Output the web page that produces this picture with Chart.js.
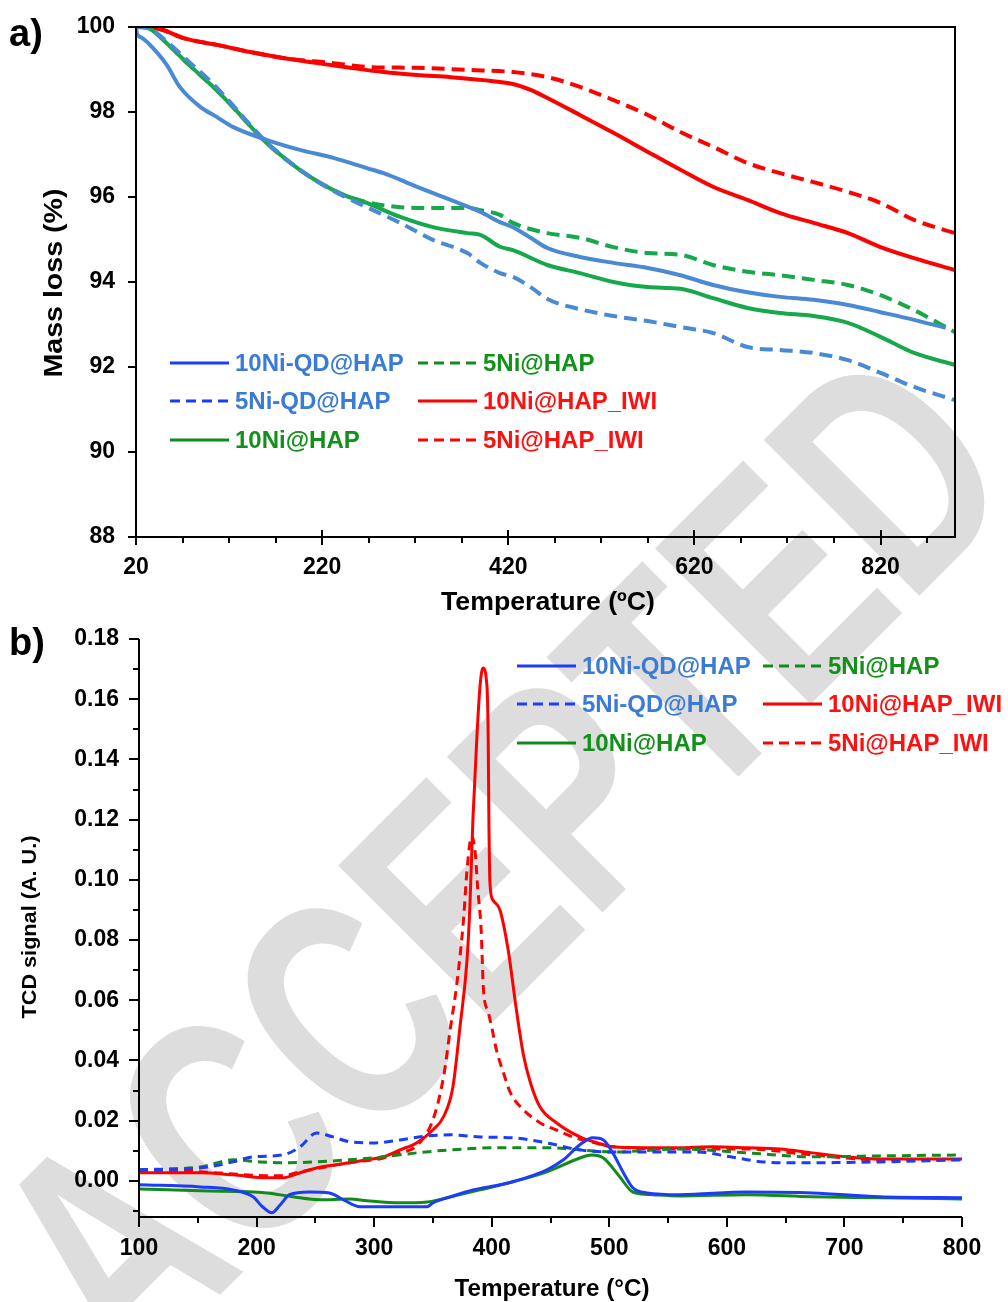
<!DOCTYPE html>
<html>
<head>
<meta charset="utf-8">
<script src="https://cdn.jsdelivr.net/npm/chart.js@4.4.0/dist/chart.umd.min.js"></script>
<style>
  body { margin: 0; background: #fff; }
  #lienzo { position: relative; width: 1008px; height: 1302px; }
  canvas { position: absolute; left: 0; }
</style>
</head>
<body>
<div id="lienzo">
  <canvas id="marca" width="1008" height="1302" style="top:0"></canvas>
  <canvas id="graficoTGA" width="1008" height="620" style="top:0"></canvas>
  <canvas id="graficoTPR" width="1008" height="682" style="top:620px"></canvas>
</div>
<script>
// Nombres de las muestras (mismo orden en las dos graficas)
const nombres = ['10Ni-QD@HAP', '5Ni-QD@HAP', '10Ni@HAP', '5Ni@HAP', '10Ni@HAP_IWI', '5Ni@HAP_IWI'];

// ---- a) TGA: temperatura (ºC) y perdida de masa (%) ----
const tempA_10NiQD = [20, 21, 26, 35, 53, 67, 89, 107, 124, 161, 196, 232, 268, 286, 322, 358, 390, 411, 425, 444, 462, 497, 533, 570, 605, 640, 677, 712, 748, 785, 820, 856, 890];
const masa_10NiQD = [100, 99.85, 99.75, 99.58, 99.11, 98.59, 98.12, 97.88, 97.65, 97.34, 97.11, 96.92, 96.68, 96.56, 96.24, 95.93, 95.65, 95.41, 95.29, 95.04, 94.80, 94.59, 94.45, 94.33, 94.16, 93.93, 93.76, 93.65, 93.58, 93.46, 93.29, 93.11, 92.92];

const tempA_5NiQD = [20, 32, 53, 75, 103, 124, 157, 178, 196, 218, 243, 268, 304, 339, 376, 390, 411, 425, 444, 462, 497, 533, 570, 605, 640, 677, 712, 748, 785, 820, 856, 900];
const masa_5NiQD = [100, 99.98, 99.66, 99.22, 98.66, 98.16, 97.36, 96.95, 96.64, 96.32, 96.02, 95.76, 95.39, 94.99, 94.68, 94.45, 94.21, 94.12, 93.88, 93.60, 93.36, 93.20, 93.08, 92.94, 92.80, 92.47, 92.40, 92.33, 92.16, 91.86, 91.53, 91.22];

const tempA_10Ni = [20, 32, 53, 75, 103, 124, 157, 178, 196, 218, 243, 268, 304, 339, 376, 390, 411, 425, 462, 497, 533, 570, 605, 640, 677, 712, 748, 785, 820, 856, 900];
const masa_10Ni = [100, 99.98, 99.62, 99.15, 98.59, 98.12, 97.34, 96.94, 96.64, 96.33, 96.05, 95.86, 95.53, 95.29, 95.15, 95.11, 94.83, 94.75, 94.40, 94.21, 94.00, 93.88, 93.84, 93.62, 93.39, 93.27, 93.20, 93.04, 92.71, 92.33, 92.05];

const tempA_5Ni = [20, 32, 53, 75, 103, 124, 157, 178, 196, 218, 243, 268, 304, 339, 376, 390, 411, 425, 462, 497, 533, 570, 605, 640, 677, 712, 748, 785, 820, 856, 900];
const masa_5Ni = [100, 99.98, 99.62, 99.15, 98.59, 98.12, 97.34, 96.94, 96.64, 96.33, 96.05, 95.88, 95.76, 95.74, 95.74, 95.69, 95.58, 95.39, 95.15, 95.04, 94.82, 94.68, 94.64, 94.40, 94.24, 94.16, 94.05, 93.93, 93.69, 93.34, 92.82];

const tempA_10NiIWI = [20, 32, 49, 71, 107, 143, 178, 215, 250, 286, 322, 358, 393, 425, 444, 462, 497, 533, 570, 605, 640, 677, 712, 748, 785, 820, 856, 900];
const masa_10NiIWI = [100, 100, 99.93, 99.74, 99.58, 99.41, 99.27, 99.15, 99.04, 98.94, 98.87, 98.82, 98.75, 98.66, 98.52, 98.33, 97.93, 97.51, 97.06, 96.64, 96.24, 95.93, 95.62, 95.39, 95.15, 94.82, 94.56, 94.28];

const tempA_5NiIWI = [20, 32, 49, 71, 107, 143, 178, 232, 268, 322, 376, 425, 462, 497, 533, 570, 605, 640, 677, 712, 748, 785, 820, 856, 900];
const masa_5NiIWI = [100, 100, 99.93, 99.74, 99.58, 99.41, 99.27, 99.15, 99.06, 99.04, 98.99, 98.94, 98.82, 98.59, 98.28, 97.93, 97.53, 97.18, 96.80, 96.56, 96.35, 96.12, 95.86, 95.46, 95.15];

const ticksX_A = [20, 220, 420, 620, 820];
const ticksY_A = [88, 90, 92, 94, 96, 98, 100];

// ---- b) TPR: temperatura (°C) y señal TCD ----
const tempB_10NiQD = [100, 152, 180, 197, 205, 213, 220, 228, 245, 262, 274, 288, 308, 345, 350, 365, 384, 407, 418, 447, 461, 475, 486, 495, 503, 512, 520, 532, 560, 617, 673, 730, 800];
const tcd_10NiQD = [-0.0013, -0.0020, -0.0030, -0.0053, -0.0086, -0.0106, -0.0080, -0.0046, -0.0037, -0.0040, -0.0063, -0.0086, -0.0086, -0.0086, -0.0073, -0.0053, -0.0030, -0.0013, -0.0003, 0.0037, 0.0070, 0.0120, 0.0143, 0.0136, 0.0093, 0.0027, -0.0023, -0.0040, -0.0046, -0.0037, -0.0040, -0.0053, -0.0056];

const tempB_5NiQD = [100, 152, 180, 197, 222, 237, 251, 265, 279, 299, 322, 345, 365, 390, 418, 447, 475, 503, 546, 575, 603, 631, 660, 730, 800];
const tcd_5NiQD = [0.0037, 0.0043, 0.0063, 0.0080, 0.0086, 0.0113, 0.0159, 0.0146, 0.0130, 0.0126, 0.0136, 0.0149, 0.0153, 0.0146, 0.0143, 0.0126, 0.0103, 0.0096, 0.0096, 0.0096, 0.0080, 0.0063, 0.0060, 0.0063, 0.0070];

const tempB_10Ni = [100, 152, 209, 231, 254, 279, 294, 322, 345, 365, 390, 418, 447, 475, 485, 495, 509, 520, 537, 560, 617, 673, 730, 800];
const tcd_10Ni = [-0.0027, -0.0033, -0.0040, -0.0053, -0.0063, -0.0060, -0.0066, -0.0073, -0.0070, -0.0053, -0.0030, -0.0003, 0.0030, 0.0076, 0.0086, 0.0076, 0.0013, -0.0037, -0.0046, -0.0050, -0.0046, -0.0053, -0.0056, -0.0060];

const tempB_5Ni = [100, 152, 180, 203, 222, 251, 279, 308, 336, 365, 407, 447, 475, 503, 560, 617, 673, 730, 800];
const tcd_5Ni = [0.0037, 0.0046, 0.0070, 0.0063, 0.0060, 0.0063, 0.0070, 0.0080, 0.0093, 0.0103, 0.0110, 0.0110, 0.0103, 0.0096, 0.0106, 0.0093, 0.0080, 0.0083, 0.0086];

const tempB_10NiIWI = [100, 152, 180, 209, 222, 237, 251, 279, 294, 308, 322, 336, 350, 359, 367, 373, 379, 381.5, 384, 387.4, 390, 392.5, 396, 397, 397.6, 398.5, 401, 407, 414, 421, 427, 433, 441, 455, 475, 490, 503, 532, 560, 588, 617, 645, 673, 702, 730, 800];
const tcd_10NiIWI = [0.0027, 0.0027, 0.0020, 0.0010, 0.0010, 0.0027, 0.0043, 0.0060, 0.0070, 0.0080, 0.0103, 0.0126, 0.0169, 0.0213, 0.0312, 0.0511, 0.0734, 0.092, 0.120, 0.1475, 0.164, 0.1704, 0.164, 0.1475, 0.120, 0.099, 0.0933, 0.090, 0.0767, 0.0568, 0.0418, 0.0325, 0.0246, 0.0193, 0.0146, 0.0126, 0.0113, 0.0110, 0.0110, 0.0113, 0.0110, 0.0106, 0.0093, 0.0080, 0.0073, 0.0073];

const tempB_5NiIWI = [100, 152, 180, 209, 222, 237, 279, 308, 322, 336, 350, 359, 365, 370, 376, 379, 383, 386, 388, 391, 393, 397, 400, 404, 410, 416, 427, 441, 455, 469, 484, 503, 560, 617, 673, 730, 800];
const tcd_5NiIWI = [0.0033, 0.0030, 0.0023, 0.0017, 0.0017, 0.0030, 0.0060, 0.0076, 0.0093, 0.0116, 0.0203, 0.0345, 0.0511, 0.0644, 0.0867, 0.1033, 0.1146, 0.1089, 0.0976, 0.0834, 0.0634, 0.0561, 0.0511, 0.0435, 0.0359, 0.0292, 0.0236, 0.0193, 0.0169, 0.0146, 0.0130, 0.0113, 0.0106, 0.0106, 0.0086, 0.0070, 0.0070];

const ticksX_B = [100, 200, 300, 400, 500, 600, 700, 800];
const ticksY_B = [0, 0.02, 0.04, 0.06, 0.08, 0.10, 0.12, 0.14, 0.16, 0.18];

// Colores
const coloresA = ['#4a8ad4', '#4a8ad4', '#16a84a', '#16a84a', '#ff0000', '#ff0000'];
const coloresB = ['#1c3cf5', '#1c3cf5', '#138a1c', '#138a1c', '#ff0000', '#ff0000'];
const coloresTexto = ['#3a7bd5', '#3a7bd5', '#12901a', '#12901a', '#ff1010', '#ff1010'];
const discontinua = [false, true, false, true, false, true];

const FUENTE = '"Liberation Sans", Arial, sans-serif';

const pares = (xs, ys) => xs.map((x, i) => ({ x: x, y: ys[i] }));

// Marca de agua "ACCEPTED"
function dibujarMarca() {
    const ctx = document.getElementById('marca').getContext('2d');
    ctx.save();
    ctx.translate(130, 1385);
    ctx.rotate(-Math.PI / 4);
    ctx.scale(0.72, 1);
    ctx.font = 'bold 320px ' + FUENTE;
    ctx.fillStyle = '#dddddd';
    ctx.textBaseline = 'alphabetic';
    ctx.fillText('ACCEPTED', 0, 0);
    ctx.restore();
}
dibujarMarca();

// texto estirado a un ancho dado (los titulos del original son algo mas anchos)
function textoAncho(ctx, texto, x, y, ancho) {
    const w = ctx.measureText(texto).width;
    ctx.save();
    ctx.translate(x, y);
    ctx.scale(ancho / w, 1);
    ctx.fillText(texto, 0, 0);
    ctx.restore();
}

// Plugin para ejes, marcas, titulos y leyenda
const decoracion = {
    id: 'decoracion',
    afterDatasetsDraw(chart, args, o) {
        const { ctx, chartArea: a, scales: { x, y } } = chart;
        ctx.save();
        ctx.strokeStyle = '#000';
        ctx.lineWidth = 2;
        ctx.setLineDash([]);
        ctx.beginPath();
        if (o.caja) {
            ctx.rect(a.left, a.top, a.right - a.left, a.bottom - a.top);
        } else {
            ctx.moveTo(a.left, a.top);
            ctx.lineTo(a.left, a.bottom);
            ctx.lineTo(a.right, a.bottom);
        }
        ctx.stroke();

        // marcas del eje x
        ctx.beginPath();
        for (let v = x.min; v <= x.max + 1e-9; v += o.pasoMenorX) {
            const px = Math.round(x.getPixelForValue(v));
            const mayor = o.ticksX.includes(Math.round(v));
            ctx.moveTo(px, a.bottom - (mayor ? o.dentroX : 0));
            ctx.lineTo(px, a.bottom + (mayor ? o.largoMayor : o.largoMenor));
        }
        // marcas del eje y
        o.ticksY.forEach(v => {
            const py = Math.round(y.getPixelForValue(v));
            ctx.moveTo(a.left, py);
            ctx.lineTo(a.left - o.largoMayor, py);
        });
        (o.menoresY || []).forEach(v => {
            const py = Math.round(y.getPixelForValue(v));
            ctx.moveTo(a.left, py);
            ctx.lineTo(a.left - o.largoMenor, py);
        });
        ctx.stroke();

        // titulos de ejes
        ctx.fillStyle = '#000';
        ctx.textAlign = 'center';
        ctx.textBaseline = 'middle';
        ctx.font = 'bold ' + o.tamTituloX + 'px ' + FUENTE;
        textoAncho(ctx, o.tituloX, o.posTituloX[0], o.posTituloX[1], o.anchoTituloX);
        ctx.save();
        ctx.translate(o.posTituloY[0], o.posTituloY[1]);
        ctx.rotate(-Math.PI / 2);
        ctx.font = 'bold ' + o.tamTituloY + 'px ' + FUENTE;
        textoAncho(ctx, o.tituloY, 0, 0, o.anchoTituloY);
        ctx.restore();

        // letra del panel
        ctx.textAlign = 'left';
        ctx.textBaseline = 'alphabetic';
        ctx.font = 'bold 38px ' + FUENTE;
        ctx.fillText(o.panel, 9, o.panelY);

        // leyenda en dos columnas
        ctx.font = 'bold 24px ' + FUENTE;
        ctx.textBaseline = 'middle';
        nombres.forEach((nom, i) => {
            const col = Math.floor(i / 3), fila = i % 3;
            const x0 = o.leyendaX[col], yy = o.leyendaY[fila];
            ctx.strokeStyle = o.coloresLeyenda[i];
            ctx.lineWidth = 3;
            ctx.setLineDash(discontinua[i] ? [10, 6] : []);
            ctx.beginPath();
            ctx.moveTo(x0, yy);
            ctx.lineTo(x0 + 59, yy);
            ctx.stroke();
            ctx.fillStyle = coloresTexto[i];
            ctx.fillText(nom, x0 + 65, yy + 1);
        });
        ctx.restore();
    }
};

function crearSeries(temps, vals, colores, grosor, trazo) {
    return temps.map((t, i) => ({
        label: nombres[i],
        data: pares(t, vals[i]),
        borderColor: colores[i],
        borderWidth: grosor,
        borderDash: discontinua[i] ? trazo : [],
        fill: false
    }));
}

function opcionesEscala(min, max, lista, padding, fmt, lado) {
    return {
        type: 'linear',
        min: min,
        max: max,
        afterBuildTicks: s => { s.ticks = lista.map(v => ({ value: v })); },
        afterFit: s => {
            // tamaño fijo para que el area del grafico caiga donde en el original
            if (lado === 'x') { s.height = 80; s.paddingLeft = 0; s.paddingRight = 0; }
            else { s.width = 100; s.paddingTop = 0; s.paddingBottom = 0; }
        },
        grid: { display: false, drawTicks: false },
        border: { display: false },
        ticks: {
            padding: padding,
            color: '#000',
            font: { family: FUENTE, size: 23, weight: 'bold' },
            callback: fmt
        }
    };
}

const baseOpciones = {
    responsive: false,
    animation: false,
    events: [],
    elements: {
        point: { radius: 0 },
        line: { cubicInterpolationMode: 'monotone', borderCapStyle: 'butt', borderJoinStyle: 'round' }
    }
};

// a) TGA
new Chart(document.getElementById('graficoTGA'), {
    type: 'line',
    data: {
        datasets: crearSeries(
            [tempA_10NiQD, tempA_5NiQD, tempA_10Ni, tempA_5Ni, tempA_10NiIWI, tempA_5NiIWI],
            [masa_10NiQD, masa_5NiQD, masa_10Ni, masa_5Ni, masa_10NiIWI, masa_5NiIWI],
            coloresA, 4, [13, 7])
    },
    options: Object.assign({}, baseOpciones, {
        layout: { padding: { left: 36, right: 53, top: 27, bottom: 3 } },
        plugins: {
            legend: { display: false },
            tooltip: { enabled: false },
            decoracion: {
                caja: true, ticksX: ticksX_A, ticksY: ticksY_A, pasoMenorX: 50,
                dentroX: 7, largoMayor: 8, largoMenor: 6,
                tituloX: 'Temperature (ºC)', posTituloX: [548, 603], tamTituloX: 25, anchoTituloX: 214,
                tituloY: 'Mass loss (%)', posTituloY: [55, 283], tamTituloY: 26, anchoTituloY: 189,
                panel: 'a)', panelY: 46,
                leyendaX: [170, 418], leyendaY: [363, 401, 440], coloresLeyenda: coloresB
            }
        },
        scales: {
            x: opcionesEscala(20, 900, ticksX_A, 17, v => v, 'x'),
            y: opcionesEscala(88, 100, ticksY_A, 21, v => v, 'y')
        }
    }),
    plugins: [decoracion]
});

// b) TPR
const menoresB = [];
for (let v = -0.01; v < 0.18; v += 0.02) menoresB.push(Math.round(v * 1000) / 1000);

new Chart(document.getElementById('graficoTPR'), {
    type: 'line',
    data: {
        datasets: crearSeries(
            [tempB_10NiQD, tempB_5NiQD, tempB_10Ni, tempB_5Ni, tempB_10NiIWI, tempB_5NiIWI],
            [tcd_10NiQD, tcd_5NiQD, tcd_10Ni, tcd_5Ni, tcd_10NiIWI, tcd_5NiIWI],
            coloresB, 3, [9, 6])
    },
    options: Object.assign({}, baseOpciones, {
        layout: { padding: { left: 39, right: 46, top: 19, bottom: 5 } },
        plugins: {
            legend: { display: false },
            tooltip: { enabled: false },
            decoracion: {
                caja: false, ticksX: ticksX_B, ticksY: ticksY_B, menoresY: menoresB, pasoMenorX: 50,
                dentroX: 0, largoMayor: 10, largoMenor: 6,
                tituloX: 'Temperature (°C)', posTituloX: [552, 669], tamTituloX: 24, anchoTituloX: 195,
                tituloY: 'TCD signal (A. U.)', posTituloY: [30, 307], tamTituloY: 21, anchoTituloY: 183,
                panel: 'b)', panelY: 35,
                leyendaX: [517, 763], leyendaY: [46, 84, 123], coloresLeyenda: coloresB
            }
        },
        scales: {
            x: opcionesEscala(100, 800, ticksX_B, 18, v => v, 'x'),
            y: opcionesEscala(-0.012, 0.18, ticksY_B, 20, v => v.toFixed(2), 'y')
        }
    }),
    plugins: [decoracion]
});
</script>
</body>
</html>
